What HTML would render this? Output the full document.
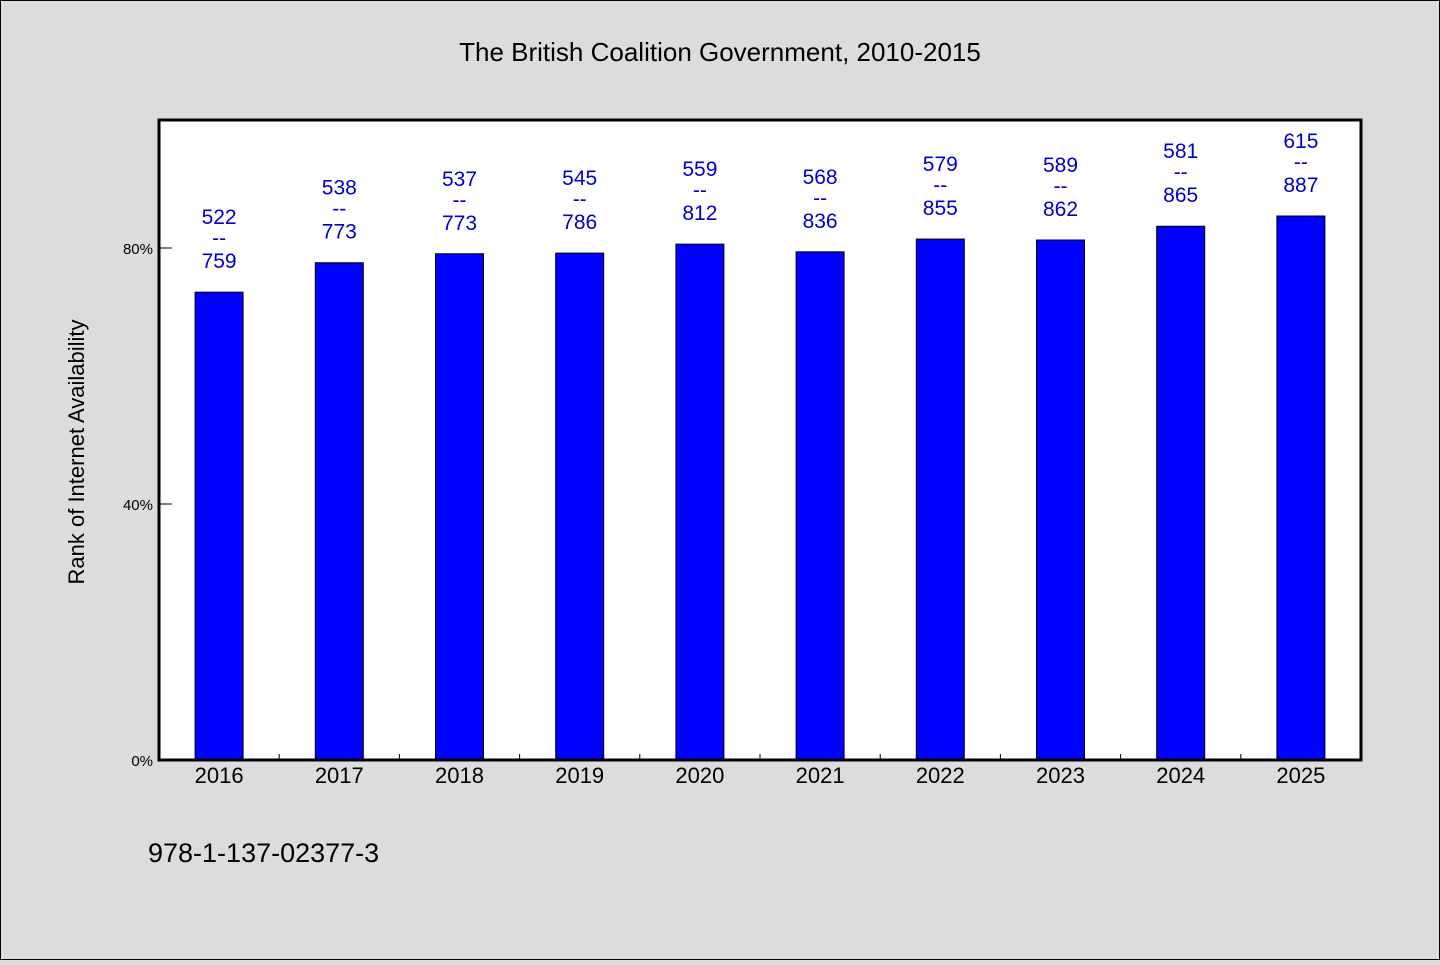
<!DOCTYPE html>
<html><head><meta charset="utf-8"><style>
body{margin:0;background:#dcdcdc;}
svg text{font-family:"WenQuanYi Zen Hei","Liberation Sans",sans-serif;}
</style></head><body>
<svg width="1440" height="960">
<rect x="0.5" y="0.5" width="1439" height="959" fill="#dcdcdc" stroke="#000"/>
<text x="720" y="61" font-size="26" text-anchor="middle">The British Coalition Government, 2010-2015</text>
<rect x="159" y="120" width="1202" height="640" fill="#fff"/>
<g id="bars"></g>
<rect x="159" y="120" width="1202" height="640" fill="none" stroke="#000" stroke-width="3"/>
<g id="axes"></g>
<text transform="translate(84,452) rotate(-90)" font-size="22" text-anchor="middle">Rank of Internet Availability</text>
<text x="148" y="862" font-size="27">978-1-137-02377-3</text>
</svg>
<script>
const categories=["2016","2017","2018","2019","2020","2021","2022","2023","2024","2025"];
const values=[73.1,77.7,79.1,79.2,80.6,79.4,81.4,81.25,83.4,85.0];
const topLabels=["522","538","537","545","559","568","579","589","581","615"];
const bottomLabels=["759","773","773","786","812","836","855","862","865","887"];
const yTicks=[0,40,80];
const X0=159,X1=1361,Y0=760,Y1=120,YMAX=100;
const NS="http://www.w3.org/2000/svg";
const bw=(X1-X0)/categories.length;
function xs(i){return X0+bw*(i+0.5);}
function ys(v){return Y0-(v/YMAX)*(Y0-Y1);}
function mk(t,a,p){const e=document.createElementNS(NS,t);for(const k in a)e.setAttribute(k,a[k]);p.appendChild(e);return e;}
const gb=document.getElementById('bars'),ga=document.getElementById('axes');
categories.forEach((c,i)=>{
 const y=ys(values[i]);
 const r=mk('rect',{x:xs(i)-24,y:y,width:48,height:Y0-y,fill:'#0000ff',stroke:'#000','stroke-width':1},gb);
 
 
 const t1=mk('text',{x:xs(i),y:y-68,'font-size':21,fill:'#0000cc','text-anchor':'middle'},gb);t1.textContent=topLabels[i];
 
 
 const t2=mk('text',{x:xs(i),y:y-47,'font-size':21,fill:'#0000cc','text-anchor':'middle'},gb);t2.textContent='--';
 
 
 const t3=mk('text',{x:xs(i),y:y-24,'font-size':21,fill:'#0000cc','text-anchor':'middle'},gb);t3.textContent=bottomLabels[i];
 
 
 const tl=mk('text',{x:xs(i),y:783,'font-size':22,'text-anchor':'middle'},ga);tl.textContent=c;
 
 
 if(i>0){const tk=mk('line',{x1:X0+bw*i,x2:X0+bw*i,y1:Y0,y2:Y0-6,stroke:'#000'},ga);
 
 }
});
yTicks.forEach(v=>{
 const y=ys(v);
 const tk=mk('line',{x1:X0,x2:X0+13,y1:y,y2:y,stroke:'#000'},ga);
 
 
 const tl=mk('text',{x:153,y:y+6,'font-size':15,'text-anchor':'end'},ga);tl.textContent=v+'%';
 
 
});
</script>
</body></html>
